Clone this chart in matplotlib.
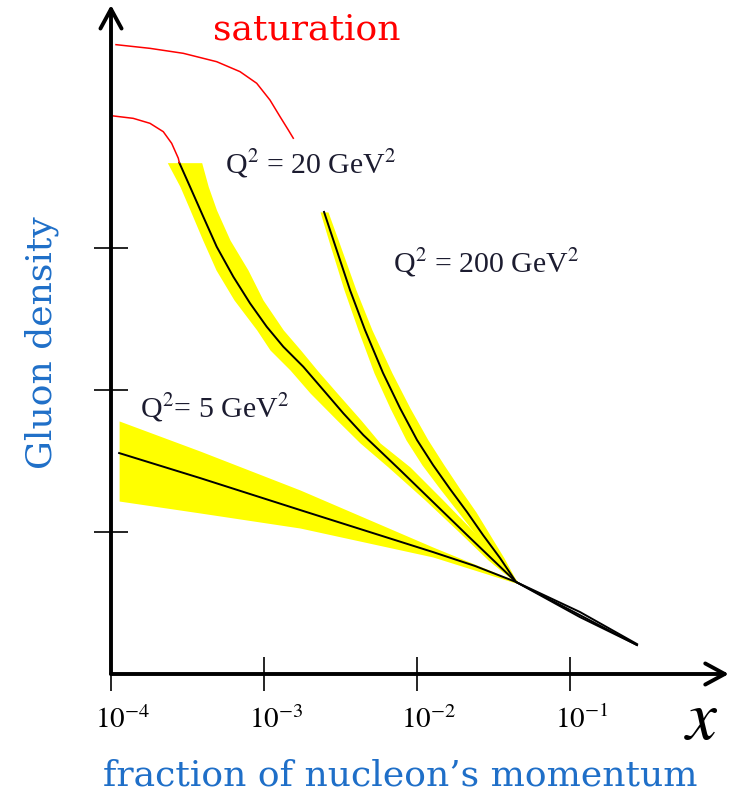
import numpy as np
import matplotlib
matplotlib.use("Agg")
import matplotlib.pyplot as plt
from matplotlib.transforms import ScaledTranslation

plt.rcParams["mathtext.fontset"] = "stix"

# --- data (x = momentum fraction, y = gluon density in arbitrary units) ---
# Q^2 = 5 GeV^2
q5_x = [1.13e-4, 3.82e-4, 1.72e-3, 1.27e-2, 2.39e-2, 4.44e-2, 0.116, 0.274]
q5_y = [1.556, 1.380, 1.155, 0.859, 0.761, 0.648, 0.401, 0.204]
q5_band_x = [1.13e-4, 3.82e-4, 1.72e-3, 1.27e-2, 4.44e-2]
q5_band_lo = [1.218, 1.134, 1.028, 0.824, 0.640]
q5_band_hi = [1.782, 1.570, 1.296, 0.894, 0.655]

# Q^2 = 20 GeV^2
q20_x = [2.795e-4, 3.283e-4, 4.011e-4, 4.907e-4, 6.30e-4, 8.10e-4, 1.041e-3, 1.337e-3,
         1.806e-3, 2.442e-3, 3.299e-3, 4.457e-3, 7.74e-3, 1.273e-2, 2.122e-2, 4.44e-2,
         0.116, 0.274]
q20_y = [3.601, 3.432, 3.220, 3.009, 2.798, 2.611, 2.446, 2.305,
         2.164, 2.000, 1.836, 1.683, 1.437, 1.211, 0.979, 0.648,
         0.415, 0.204]
q20_band_y = [3.601, 3.432, 3.268, 3.056, 2.845, 2.634, 2.423, 2.282, 2.141,
              1.979, 1.789, 1.627, 1.458, 1.225, 0.993, 0.803, 0.648]
q20_band_left = [2.333e-4, 2.825e-4, 3.283e-4, 3.974e-4, 4.857e-4, 6.367e-4, 8.96e-4, 1.094e-3,
                 1.479e-3, 1.998e-3, 2.987e-3, 4.241e-3, 6.464e-3, 1.128e-2, 1.91e-2, 2.912e-2, 4.37e-2]
q20_band_right = [3.915e-4, 4.324e-4, 4.893e-4, 5.995e-4, 7.858e-4, 9.851e-4, 1.337e-3, 1.732e-3,
                  2.22e-3, 3.0e-3, 4.292e-3, 5.732e-3, 9.0e-3, 1.479e-2, 2.394e-2, 3.487e-2, 4.571e-2]

# Q^2 = 200 GeV^2
q200_x = [2.468e-3, 2.911e-3, 3.648e-3, 4.571e-3, 5.995e-3, 7.74e-3, 1.0e-2, 1.273e-2,
          1.643e-2, 2.122e-2, 2.70e-2, 3.487e-2, 4.44e-2, 0.116, 0.274]
q200_y = [3.254, 3.021, 2.704, 2.423, 2.120, 1.873, 1.648, 1.472,
          1.303, 1.141, 0.979, 0.817, 0.648, 0.437, 0.211]
q200_band_y = [3.254, 3.021, 2.704, 2.423, 2.120, 1.873, 1.648, 1.472,
               1.303, 1.141, 0.979, 0.817, 0.648]
q200_band_left = [2.323e-3, 2.70e-3, 3.334e-3, 4.115e-3, 5.236e-3, 6.661e-3, 8.475e-3, 1.078e-2,
                  1.414e-2, 1.854e-2, 2.429e-2, 3.283e-2, 4.37e-2]
q200_band_right = [2.62e-3, 3.138e-3, 3.993e-3, 5.08e-3, 6.865e-3, 9.0e-3, 1.18e-2, 1.501e-2,
                   1.91e-2, 2.429e-2, 3.0e-2, 3.704e-2, 4.504e-2]

# saturation curves
sat_hi_x = [1.078e-4, 1.798e-4, 2.968e-4, 4.907e-4, 6.967e-4, 8.96e-4, 1.094e-3, 1.273e-3,
            1.442e-3, 1.554e-3]
sat_hi_y = [4.432, 4.406, 4.371, 4.312, 4.242, 4.160, 4.042, 3.925, 3.831, 3.773]
sat_lo_x = [1.035e-4, 1.398e-4, 1.798e-4, 2.197e-4, 2.492e-4, 2.754e-4, 2.795e-4]
sat_lo_y = [3.930, 3.913, 3.878, 3.819, 3.737, 3.632, 3.601]

xticks = [1e-4, 1e-3, 1e-2, 1e-1]
xticklabels = [r"$10^{-4}$", r"$10^{-3}$", r"$10^{-2}$", r"$10^{-1}$"]
yticks = [1, 2, 3]

W, H = 738, 800
fig = plt.figure(figsize=(W / 100, H / 100), dpi=100)
# axes from pixel x 111..730, y 674..2
ax = fig.add_axes([111 / W, 1 - 674 / H, (730 - 111) / W, 672 / H])
ax.set_xscale("log")
ax.set_xlim(1e-4, 10 ** (-4 + 619 / 153))
ax.set_ylim(0, 672 / 142)
for s in ax.spines.values():
    s.set_visible(False)

yellow = "#ffff00"
ax.fill_between(q5_band_x, q5_band_lo, q5_band_hi, color=yellow, lw=0, zorder=1)
ax.fill_betweenx(q20_band_y, q20_band_left, q20_band_right, color=yellow, lw=0, zorder=1)
ax.fill_betweenx(q200_band_y, q200_band_left, q200_band_right, color=yellow, lw=0, zorder=1)

for xs, ys in [(q5_x, q5_y), (q20_x, q20_y), (q200_x, q200_y)]:
    ax.plot(xs, ys, color="black", lw=1.4, zorder=3, solid_joinstyle="round")

ax.plot(sat_hi_x, sat_hi_y, color="red", lw=1.1, zorder=3)
ax.plot(sat_lo_x, sat_lo_y, color="red", lw=1.1, zorder=3)

# arrows for the axes
arrow = dict(arrowstyle="->,head_length=0.7,head_width=0.38", lw=2.8,
             color="black", mutation_scale=20, shrinkA=0, shrinkB=0)
ax.annotate("", xy=(0, 0.9955), xytext=(0, 0), xycoords="axes fraction",
            textcoords="axes fraction", arrowprops=arrow, annotation_clip=False)
ax.annotate("", xy=(0.998, 0), xytext=(0, 0), xycoords="axes fraction",
            textcoords="axes fraction", arrowprops=arrow, annotation_clip=False)

ax.set_yticks(yticks)
ax.set_yticklabels([])
ax.set_xticks(xticks)
ax.set_xticklabels(xticklabels)
ax.xaxis.set_minor_locator(matplotlib.ticker.NullLocator())
ax.tick_params(axis="both", direction="inout", length=24, width=1.2, color="black")
ax.tick_params(axis="x", labelsize=21, pad=11)
shift = ScaledTranslation(0.12, 0, fig.dpi_scale_trans)
for lab in ax.get_xticklabels():
    lab.set_transform(lab.get_transform() + shift)

def px(x, y):
    return x / W, 1 - y / H

blue = "#1f6fc8"
serif = "DejaVu Serif"
fig.text(*px(213, 39), "saturation", color="red", fontsize=26, family=serif,
         va="baseline", ha="left")
fig.text(*px(42, 343), "Gluon density", color=blue, fontsize=26, family=serif,
         rotation=90, va="center", ha="center")
fig.text(*px(400, 786), "fraction of nucleon’s momentum", color=blue, fontsize=26,
         family=serif, va="baseline", ha="center")
fig.text(*px(684, 739), r"$x$", color="black", fontsize=50, va="baseline", ha="left")

qcol = "#1c1c30"
times = "Liberation Serif"
fig.text(*px(225, 173), r"Q$^2$ = 20 GeV$^2$", color=qcol, fontsize=21.5, family=times,
         va="baseline", ha="left")
fig.text(*px(393, 272), r"Q$^2$ = 200 GeV$^2$", color=qcol, fontsize=21.5, family=times,
         va="baseline", ha="left")
fig.text(*px(140, 418), r"Q$^2$= 5 GeV$^2$", color=qcol, fontsize=21.5, family=times,
         va="baseline", ha="left")

fig.savefig("out.png", dpi=100)
